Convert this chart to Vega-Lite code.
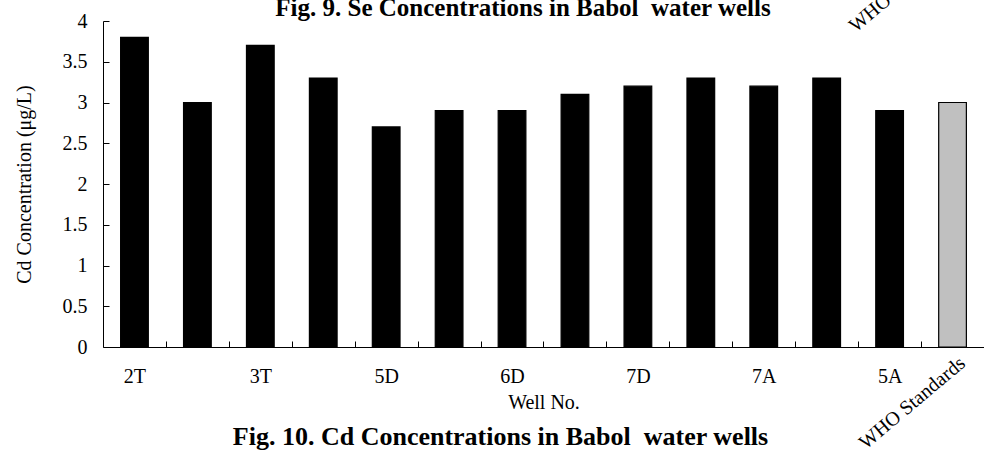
{
  "$schema": "https://vega.github.io/schema/vega-lite/v6.json",
  "width": 881,
  "height": 326,
  "autosize": "none",
  "padding": {"left": 103, "top": 21, "right": 0, "bottom": 116},
  "background": "white",
  "config": {
    "font": "Liberation Serif",
    "view": {"stroke": null},
    "axis": {
      "grid": false,
      "zindex": 1,
      "domainColor": "black",
      "domainWidth": 1,
      "ticks": true,
      "tickColor": "black",
      "tickWidth": 1,
      "labelColor": "black",
      "labelFont": "Liberation Serif",
      "labelFontSize": 20,
      "titleColor": "black",
      "titleFont": "Liberation Serif",
      "titleFontSize": 20,
      "titleFontWeight": "normal"
    }
  },
  "title": {
    "text": "Fig. 10. Cd Concentrations in Babol\u00a0 water wells",
    "orient": "bottom",
    "anchor": "middle",
    "font": "Liberation Serif",
    "fontSize": 26,
    "fontWeight": "bold",
    "color": "black",
    "baseline": "top",
    "offset": -29,
    "dx": -43
  },
  "datasets": {
    "wells": [
      {"well": "2T", "value": 3.8, "group": "well"},
      {"well": "2D", "value": 3.0, "group": "well"},
      {"well": "3T", "value": 3.7, "group": "well"},
      {"well": "4T", "value": 3.3, "group": "well"},
      {"well": "5D", "value": 2.7, "group": "well"},
      {"well": "5T", "value": 2.9, "group": "well"},
      {"well": "6D", "value": 2.9, "group": "well"},
      {"well": "6T", "value": 3.1, "group": "well"},
      {"well": "7D", "value": 3.2, "group": "well"},
      {"well": "7T", "value": 3.3, "group": "well"},
      {"well": "7A", "value": 3.2, "group": "well"},
      {"well": "6A", "value": 3.3, "group": "well"},
      {"well": "5A", "value": 2.9, "group": "well"},
      {"well": "WHO Standards", "value": 3.0, "group": "who"}
    ],
    "notes": [
      {"note": "Fig. 9. Se Concentrations in Babol\u00a0 water wells", "well": "6D", "value": 4, "kind": "prevtitle"},
      {"note": "WHO Standards", "well": "WHO Standards", "value": 4, "kind": "prevwho"},
      {"note": "WHO Standards", "well": "WHO Standards", "value": 0, "kind": "who"}
    ]
  },
  "layer": [
    {
      "data": {"name": "wells"},
      "mark": {"type": "bar", "stroke": "black", "strokeWidth": 1.2},
      "encoding": {
        "x": {
          "field": "well",
          "type": "nominal",
          "sort": null,
          "scale": {"paddingInner": 0.56, "paddingOuter": 0.28},
          "axis": {
            "title": "Well No.",
            "labelAngle": 0,
            "tickOffset": 31.46,
            "labelOffset": -31.46,
            "tickSize": -6,
            "labelPadding": 25,
            "titlePadding": 6,
            "labelExpr": "indexof(['2T','3T','5D','6D','7D','7A','5A'], datum.value) >= 0 ? datum.value : ''"
          }
        },
        "y": {
          "field": "value",
          "type": "quantitative",
          "scale": {"domain": [0, 4], "nice": false},
          "axis": {
            "title": "Cd Concentration (μg/L)",
            "values": [0, 0.5, 1, 1.5, 2, 2.5, 3, 3.5, 4],
            "format": "~g",
            "tickSize": -6,
            "labelPadding": 22,
            "titlePadding": 28
          }
        },
        "color": {
          "field": "group",
          "type": "nominal",
          "scale": {"domain": ["well", "who"], "range": ["#000000", "#c0c0c0"]},
          "legend": null
        }
      }
    },
    {
      "data": {"name": "notes"},
      "transform": [{"filter": "datum.kind == 'prevtitle'"}],
      "mark": {"type": "text", "font": "Liberation Serif", "fontSize": 25, "fontWeight": "bold", "align": "center", "baseline": "alphabetic", "dx": 11, "dy": -5, "color": "black"},
      "encoding": {
        "x": {"field": "well", "type": "nominal", "sort": null},
        "y": {"field": "value", "type": "quantitative"},
        "text": {"field": "note"}
      }
    },
    {
      "data": {"name": "notes"},
      "transform": [{"filter": "datum.kind == 'prevwho'"}],
      "mark": {"type": "text", "font": "Liberation Serif", "fontSize": 20, "align": "left", "baseline": "alphabetic", "angle": -40, "dx": -82, "dy": -53, "color": "black"},
      "encoding": {
        "x": {"field": "well", "type": "nominal", "sort": null},
        "y": {"field": "value", "type": "quantitative"},
        "text": {"field": "note"}
      }
    },
    {
      "data": {"name": "notes"},
      "transform": [{"filter": "datum.kind == 'who'"}],
      "mark": {"type": "text", "font": "Liberation Serif", "fontSize": 20, "align": "right", "baseline": "alphabetic", "angle": -40, "dx": -1, "dy": 23, "color": "black"},
      "encoding": {
        "x": {"field": "well", "type": "nominal", "sort": null},
        "y": {"field": "value", "type": "quantitative"},
        "text": {"field": "note"}
      }
    }
  ]
}
